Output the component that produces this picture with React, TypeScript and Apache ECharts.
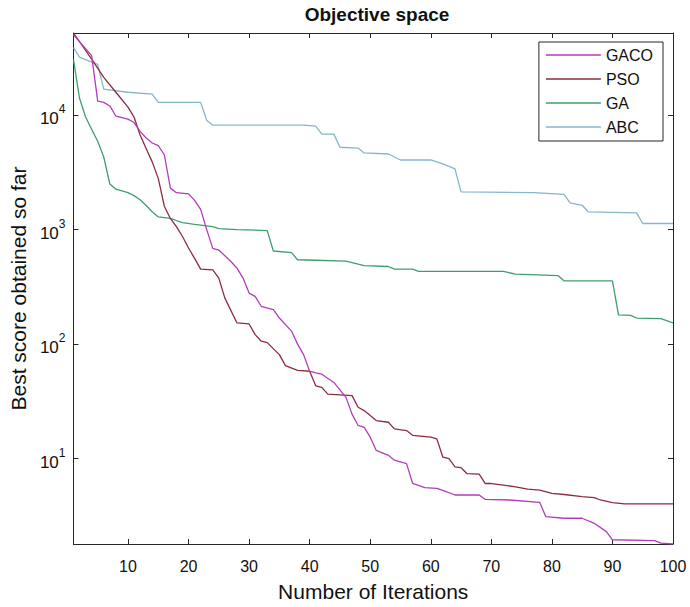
import React, { useEffect, useRef } from "react";
import * as echarts from "echarts";

// [iteration, best score] vertices
const gacoData: [number, number][] = [
  [1, 50200], [4, 33000], [5, 13200], [6, 12900], [7, 12000], [8, 9800], [10, 9200], [11, 8600],
  [12, 7200], [13, 6300], [14, 5700], [15, 5400], [16, 4500], [17, 2300], [18, 2100], [20, 2050],
  [21, 1800], [22, 1500], [23, 1000], [24, 686], [25, 663], [27, 526], [28, 460], [29, 377],
  [30, 279], [31, 261], [32, 214], [34, 200], [35, 169], [37, 130], [38, 100], [39, 81],
  [40, 58], [41, 56], [42, 54.6], [44, 46.3], [46, 34.3], [47, 24.5], [48, 19.5], [49, 18.8],
  [50, 15.4], [51, 11.8], [53, 10.7], [54, 9.7], [56, 9.05], [57, 6.1], [59, 5.6], [61, 5.5],
  [62, 5.3], [64, 4.82], [68, 4.82], [69, 4.41], [73, 4.36], [78, 4.15], [79, 3.12], [82, 3.02],
  [85, 3.02], [87, 2.73], [89, 2.31], [90, 1.96], [97, 1.93], [98, 1.83], [100, 1.8],
];

const psoData: [number, number][] = [
  [1, 52000], [4, 30700], [6, 21300], [8, 15800], [10, 11700], [11, 9600], [12, 6700], [13, 5100],
  [14, 3900], [15, 2800], [16, 1600], [17, 1250], [18, 1060], [19, 870], [20, 690], [21, 560],
  [22, 451], [24, 445], [25, 377], [26, 252], [28, 153], [30, 150], [31, 121], [32, 106],
  [33, 103], [35, 81], [36, 65], [38, 59], [40, 58], [41, 43.3], [42, 41.9], [43, 36.6],
  [47, 35.5], [48, 28.1], [49, 26.3], [51, 21.5], [53, 20.8], [54, 18.2], [56, 17.6], [57, 16],
  [60, 15.4], [61, 14.9], [62, 10.3], [63, 10], [64, 8.5], [65, 8.34], [66, 7.4], [68, 7.32],
  [69, 6.07], [70, 6.07], [72, 5.88], [74, 5.68], [76, 5.43], [78, 5.32], [80, 4.97], [82, 4.87],
  [85, 4.66], [87, 4.57], [88, 4.36], [90, 4.13], [92, 4.03], [100, 4.03],
];

const gaData: [number, number][] = [
  [1, 30500], [2, 14000], [3, 9600], [4, 7500], [5, 5900], [6, 4300], [7, 2500], [8, 2250],
  [10, 2100], [11, 1980], [12, 1820], [13, 1620], [14, 1430], [15, 1290], [17, 1250], [18, 1200],
  [19, 1150], [21, 1110], [24, 1060], [25, 1020], [28, 1000], [33, 980], [34, 650], [37, 630],
  [38, 545], [41, 540], [46, 530], [49, 485], [53, 476], [54, 451], [57, 451], [58, 431],
  [72, 431], [74, 408], [81, 397], [82, 357], [90, 357], [91, 180], [93, 178], [94, 169],
  [98, 167], [100, 153],
];

const abcData: [number, number][] = [
  [1, 38700], [2, 32000], [3, 30500], [5, 27700], [6, 16800], [10, 15800], [14, 15200], [15, 12900],
  [22, 12900], [23, 9000], [24, 8150], [39, 8150], [41, 8000], [42, 6810], [44, 6810], [45, 5230],
  [48, 5150], [49, 4670], [53, 4570], [55, 4050], [60, 4050], [62, 3740], [64, 3390], [65, 2130],
  [77, 2100], [82, 2030], [83, 1710], [85, 1630], [86, 1430], [94, 1400], [95, 1130], [100, 1130],
];

const seriesNames = ["GACO", "PSO", "GA", "ABC"];
const seriesColors = ["#b23dbb", "#8b2d3f", "#3f9e6e", "#86b6c9"];
const seriesData = [gacoData, psoData, gaData, abcData];

const xMin = 1;
const xMax = 100;

const FONT = "Liberation Sans, Arial, Helvetica, sans-serif";
const INK = "#262626";

export default function App() {
  const ref = useRef<HTMLDivElement>(null);

  useEffect(() => {
    document.body.style.margin = "0";
    if (!ref.current) return;
    const chart = echarts.init(ref.current, null, { renderer: "svg" });

    const allValues = seriesData.flat().map((p) => p[1]);
    const yMin = Math.min(...allValues);
    const yMax = Math.max(...allValues);

    const yLabelFormatter = (v: number) => {
      const e = Math.log10(v);
      const r = Math.round(e);
      if (Math.abs(e - r) > 1e-6) return "";
      return `{b|10}{s|${r}}`;
    };

    const axisLine = { show: true, lineStyle: { color: INK, width: 1 } };
    const axisTick = { show: true, inside: true, length: 5, lineStyle: { color: INK, width: 1 } };

    chart.setOption({
      animation: false,
      backgroundColor: "#ffffff",
      title: {
        text: "Objective space",
        left: 372,
        top: 0,
        textAlign: "center",
        textStyle: { fontFamily: FONT, fontSize: 19, fontWeight: "bold", color: "#111" },
      },
      legend: {
        data: seriesNames.map((n) => ({ name: n, icon: "rect" })),
        orient: "vertical",
        right: 27,
        top: 42,
        itemWidth: 55,
        itemHeight: 1.5,
        itemGap: 8,
        padding: [5, 10, 6, 7],
        borderColor: INK,
        borderWidth: 1,
        backgroundColor: "#ffffff",
        textStyle: { fontFamily: FONT, fontSize: 16, color: "#111", lineHeight: 16 },
      },
      grid: { left: 72, right: 17, top: 33, bottom: 60 },
      xAxis: [
        {
          type: "value",
          min: xMin,
          max: xMax,
          splitNumber: 10,
          minInterval: 10,
          maxInterval: 10,
          position: "bottom",
          axisLine,
          axisTick,
          splitLine: { show: false },
          axisLabel: {
            margin: 14,
            fontFamily: FONT,
            fontSize: 16,
            color: "#111",
            formatter: (v: number) => (v % 10 === 0 ? String(v) : ""),
          },
          name: "Number of Iterations",
          nameLocation: "middle",
          nameGap: 37,
          nameTextStyle: { fontFamily: FONT, fontSize: 21, color: "#111" },
        },
        {
          type: "value",
          min: xMin,
          max: xMax,
          splitNumber: 10,
          minInterval: 10,
          maxInterval: 10,
          position: "top",
          axisLine,
          axisTick,
          splitLine: { show: false },
          axisLabel: { show: false },
        },
      ],
      yAxis: [
        {
          type: "log",
          logBase: 10,
          min: yMin,
          max: yMax,
          position: "left",
          axisLine,
          axisTick,
          minorTick: { show: false },
          splitLine: { show: false },
          axisLabel: {
            margin: 8,
            formatter: yLabelFormatter,
            rich: {
              b: { fontFamily: FONT, fontSize: 17, color: "#111", verticalAlign: "bottom", lineHeight: 24 },
              s: { fontFamily: FONT, fontSize: 12, color: "#111", verticalAlign: "top", lineHeight: 24 },
            },
          },
          name: "Best score obtained so far",
          nameLocation: "middle",
          nameGap: 43,
          nameTextStyle: { fontFamily: FONT, fontSize: 21, color: "#111" },
        },
        {
          type: "log",
          logBase: 10,
          min: yMin,
          max: yMax,
          position: "right",
          axisLine,
          axisTick,
          splitLine: { show: false },
          axisLabel: { show: false },
        },
      ],
      series: seriesNames.map((name, i) => ({
        name,
        type: "line",
        data: seriesData[i],
        xAxisIndex: 0,
        yAxisIndex: 0,
        symbol: "none",
        showSymbol: false,
        color: seriesColors[i],
        lineStyle: { color: seriesColors[i], width: 1.3 },
        z: 10 - i,
      })),
    });

    return () => chart.dispose();
  }, []);

  return <div ref={ref} style={{ width: 690, height: 607 }} />;
}
